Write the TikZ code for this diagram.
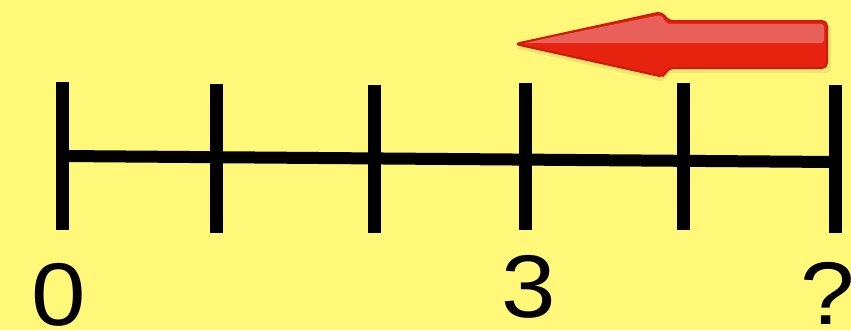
\documentclass[tikz,border=0pt]{standalone}
\usepackage{fontspec}
\setmainfont{Liberation Sans}
\definecolor{bg}{HTML}{FFF878}
\definecolor{arrowdark}{HTML}{D01A08}
\definecolor{arrowmain}{HTML}{E5230F}
\definecolor{arrowlight}{HTML}{E8605A}
\begin{document}
\begin{tikzpicture}[x=1pt,y=-1pt,
  tickline/.style={line width=13pt},
  axisline/.style={line width=12pt},
  lbl/.style={font=\fontsize{89}{89}\selectfont, xscale=1.1, anchor=base, inner sep=0pt},
  arrowshape/.style={rounded corners=5pt}]
\fill[bg] (0,0) rectangle (851,330);
\useasboundingbox (0,0) rectangle (851,330);
% positions on the line
\coordinate (t0) at (62,156);
\coordinate (t1) at (216,157.2);
\coordinate (t2) at (374,158.4);
\coordinate (t3) at (525,159.6);
\coordinate (t4) at (683,160.8);
\coordinate (t5) at (835,162);
% tick ends
\coordinate (t0a) at (62,82);  \coordinate (t0b) at (62,230);
\coordinate (t1a) at (216,84); \coordinate (t1b) at (216,233);
\coordinate (t2a) at (374,85); \coordinate (t2b) at (374,233);
\coordinate (t3a) at (525,83); \coordinate (t3b) at (525,230);
\coordinate (t4a) at (683,83); \coordinate (t4b) at (683,230);
\coordinate (t5a) at (835,85); \coordinate (t5b) at (835,233);
\draw[axisline] (t0) -- (t5);
\foreach \i in {0,...,5} {\draw[tickline] (t\i a) -- (t\i b);}
% labels
\node[lbl] (l0) at (59,325) {0};
\node[lbl] (l3) at (529,317) {3};
\node[lbl] (l5) at (828,324) {?};
% arrow shadow
\fill[black, opacity=0.07, arrowshape] (513,48) -- (662,15) -- (669,24) -- (831,24) -- (831,73) -- (669,73) -- (664,82) -- cycle;
% arrow
\fill[arrowmain, arrowshape] (515,44) -- (662,12) -- (668,21) -- (827,21) -- (827,68) -- (668,68) -- (664,77) -- cycle;
\fill[arrowlight, rounded corners=3pt] (522,43) -- (661,15) -- (667,24) -- (824,24) -- (824,43) -- cycle;
\draw[arrowdark, line width=2pt, arrowshape] (515,44) -- (662,12) -- (668,21) -- (827,21) -- (827,68) -- (668,68) -- (664,77) -- cycle;
\end{tikzpicture}
\end{document}
